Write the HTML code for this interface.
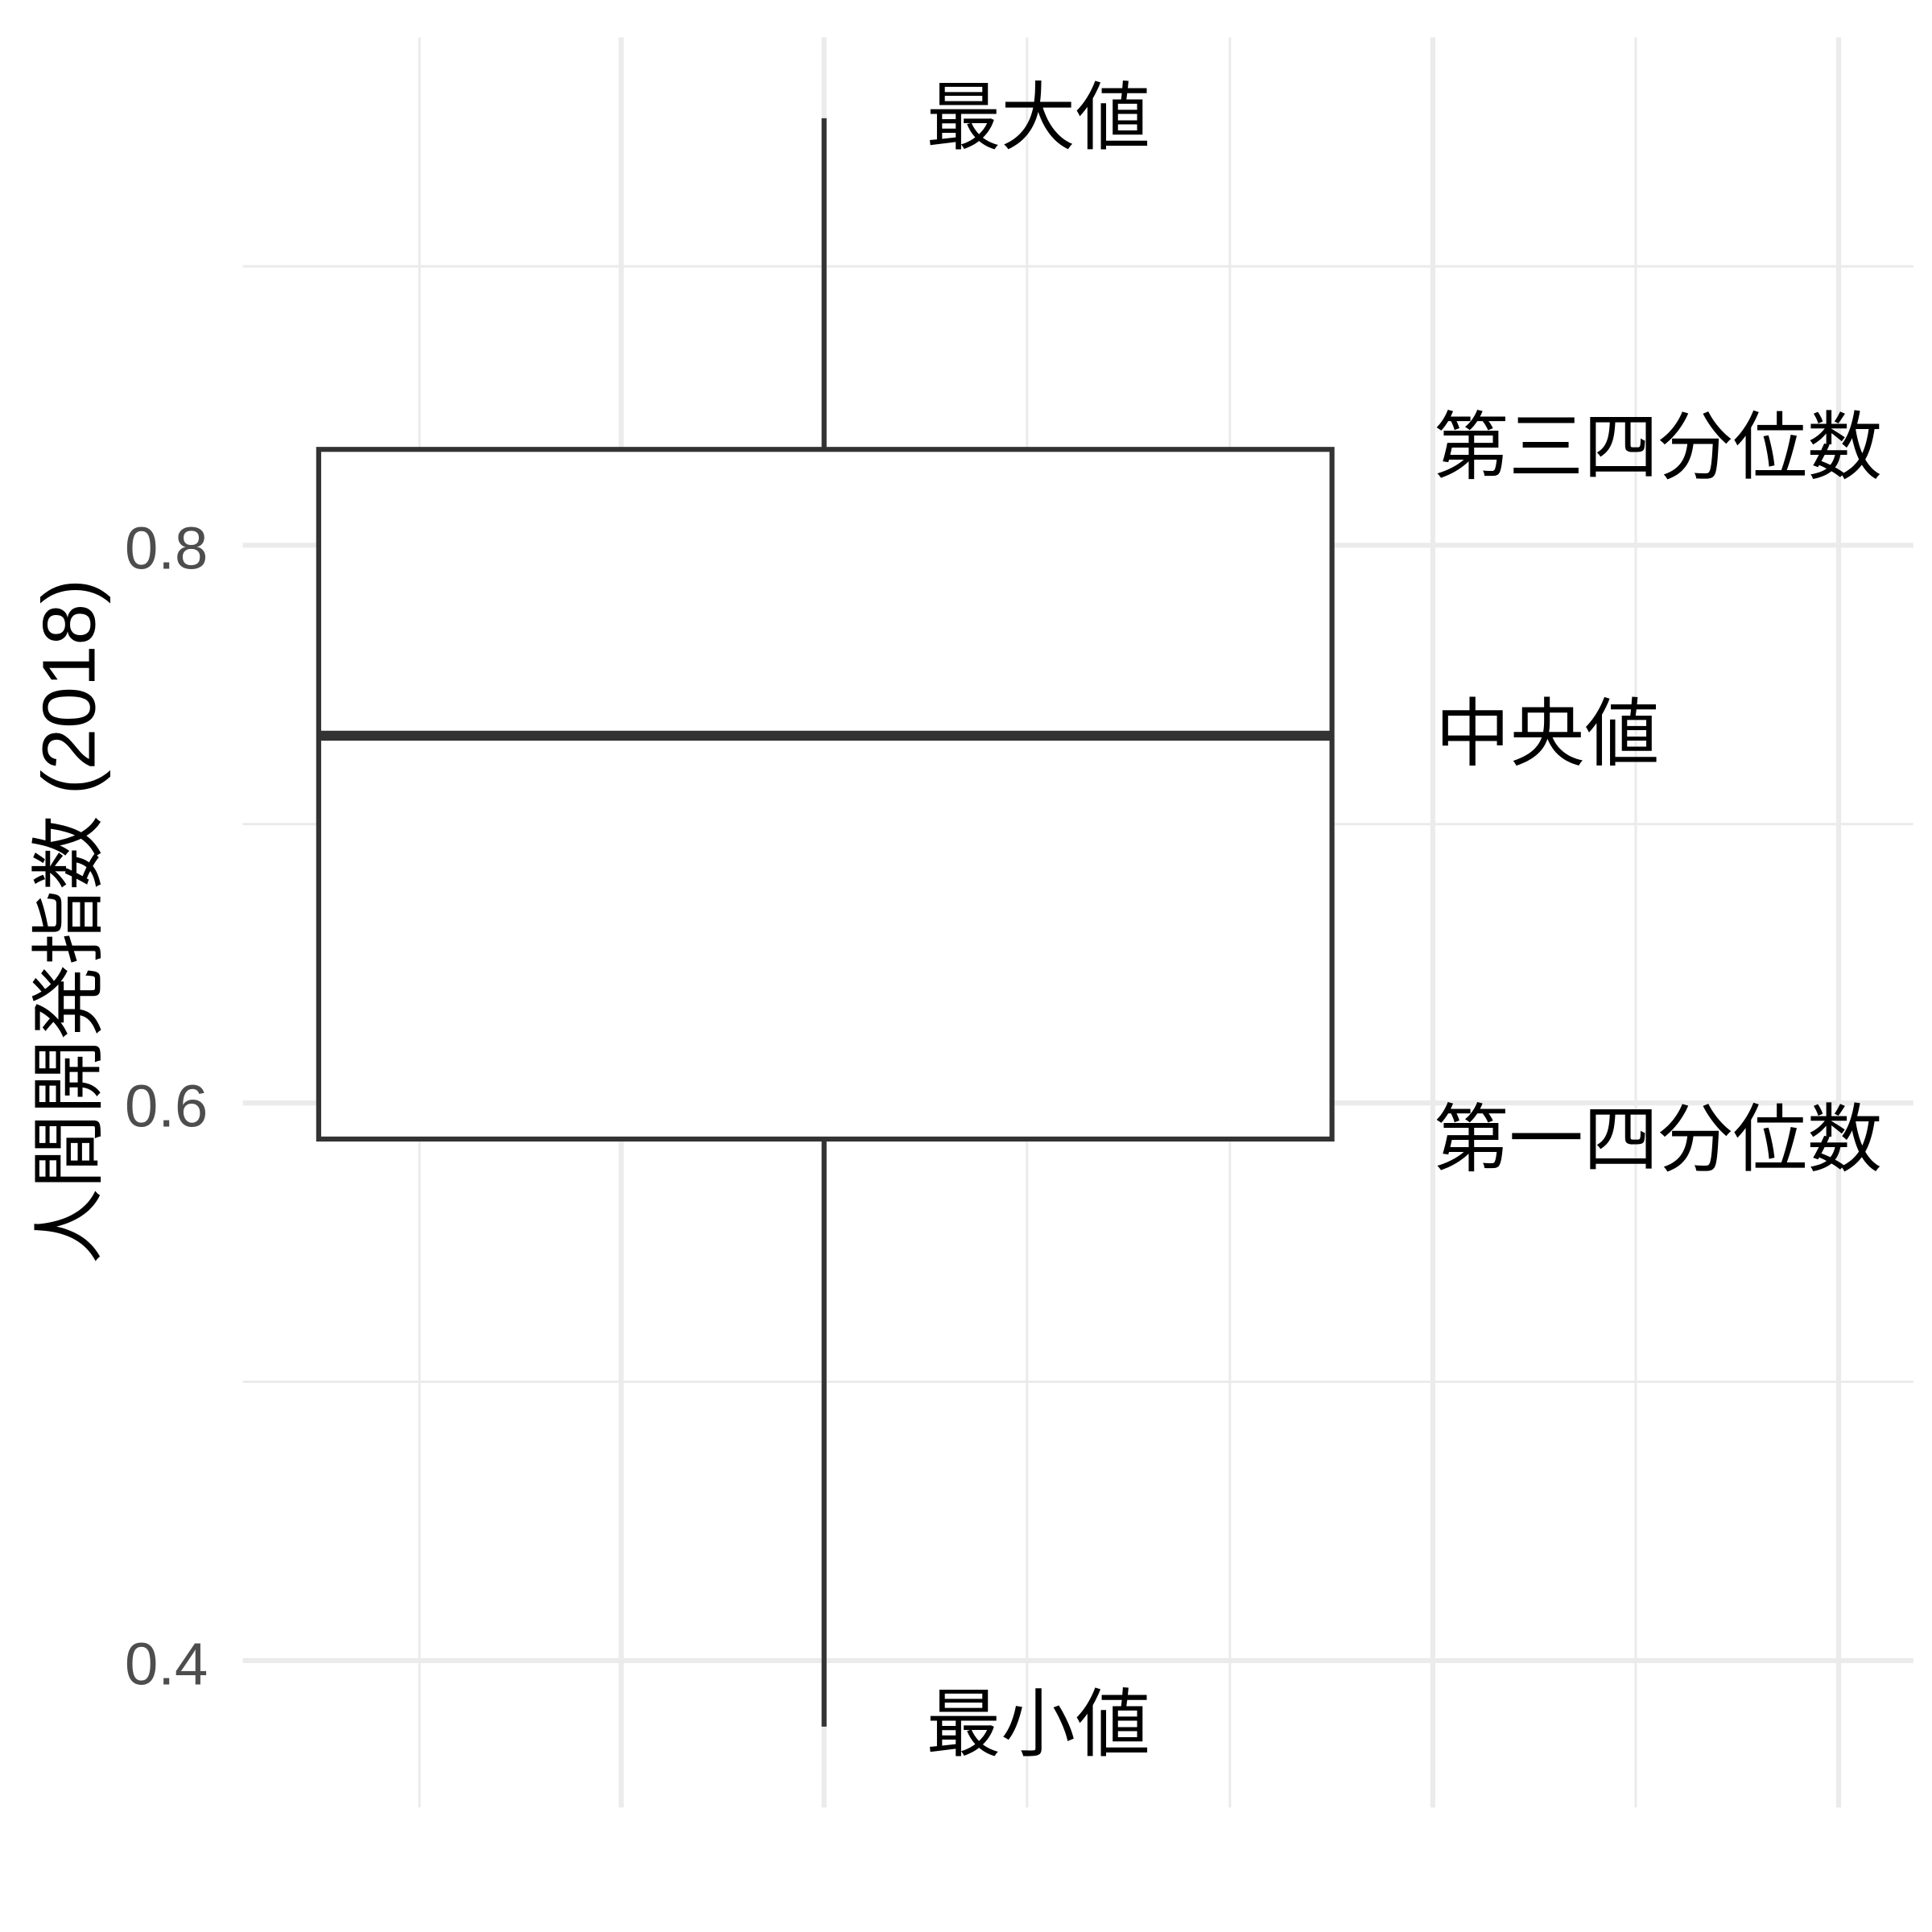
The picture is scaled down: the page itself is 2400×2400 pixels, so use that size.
<!DOCTYPE html>
<html><head><meta charset="utf-8"><style>html,body{margin:0;padding:0;background:#fff}svg{display:block}</style></head>
<body>
<svg width="2400" height="2400" viewBox="0 0 1552 1552" xmlns="http://www.w3.org/2000/svg">
<rect width="1552" height="1552" fill="#fff"/>
<g stroke="#ebebeb">
<g stroke-width="2">
<line x1="195" y1="214" x2="1537" y2="214"/>
<line x1="195" y1="662" x2="1537" y2="662"/>
<line x1="195" y1="1110" x2="1537" y2="1110"/>
<line x1="337" y1="30" x2="337" y2="1452"/>
<line x1="825" y1="30" x2="825" y2="1452"/>
<line x1="988" y1="30" x2="988" y2="1452"/>
<line x1="1314" y1="30" x2="1314" y2="1452"/>
</g>
<g stroke-width="4">
<line x1="195" y1="438" x2="1537" y2="438"/>
<line x1="195" y1="886" x2="1537" y2="886"/>
<line x1="195" y1="1334" x2="1537" y2="1334"/>
<line x1="499" y1="30" x2="499" y2="1452"/>
<line x1="662" y1="30" x2="662" y2="1452"/>
<line x1="1151" y1="30" x2="1151" y2="1452"/>
<line x1="1477" y1="30" x2="1477" y2="1452"/>
</g>
</g>
<g stroke="#333" fill="none">
<line x1="662" y1="95" x2="662" y2="361" stroke-width="4"/>
<line x1="662" y1="915" x2="662" y2="1387" stroke-width="4"/>
<rect x="256" y="361" width="814" height="554" fill="#fff" stroke-width="4"/>
<line x1="256" y1="591" x2="1070" y2="591" stroke-width="8"/>
</g>
<g font-family="Liberation Sans, Noto Sans CJK JP, sans-serif" fill="#000" font-size="60">
<text x="744" y="115">最大値</text>
<text x="744" y="1406">最小値</text>
<text x="1152" y="380">第三四分位数</text>
<text x="1153" y="610">中央値</text>
<text x="1152" y="936">第一四分位数</text>
</g>
<g font-family="Liberation Sans, sans-serif" fill="#4d4d4d" font-size="48" text-anchor="end">
<text x="167" y="457">0.8</text>
<text x="167" y="905">0.6</text>
<text x="167" y="1353">0.4</text>
</g>
<text transform="translate(76,740) rotate(-90)" text-anchor="middle" font-family="Liberation Sans, Noto Sans CJK JP, sans-serif" font-size="60" fill="#000">人間開発指数 (2018)</text>
</svg>
</body></html>
